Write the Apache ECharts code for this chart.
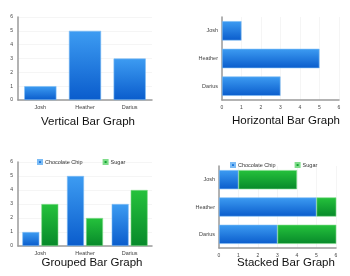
<!DOCTYPE html>
<html><head><meta charset="utf-8">
<script src="https://cdn.jsdelivr.net/npm/echarts@6/dist/echarts.min.js"></script>
<style>html,body{margin:0;padding:0;background:#fff}#c{width:350px;height:276px}</style>
</head><body><div id="c"></div>
<script>
const categories = ['Josh', 'Heather', 'Darius'];
const singleValues = [1, 5, 3];
const chocolateChip = [1, 5, 3];
const sugar = [3, 2, 4];
const seriesNames = ['Chocolate Chip', 'Sugar'];
const titles = ['Vertical Bar Graph', 'Horizontal Bar Graph', 'Grouped Bar Graph', 'Stacked Bar Graph'];

const FONT = 'Liberation Sans, Arial, sans-serif';
function grad(c1, c2) {
  return new echarts.graphic.LinearGradient(0, 0, 0, 1, [{offset: 0, color: c1}, {offset: 1, color: c2}]);
}
const blueV = grad('#3d9cf2', '#0a5ccc');
const greenV = grad('#25c23c', '#07892a');
const blueStyle = {color: blueV, borderColor: '#7cbcf5', borderWidth: 0.6};
const greenStyle = {color: greenV, borderColor: '#7fdc8a', borderWidth: 0.6};

const axisLine = {show: true, lineStyle: {color: '#9a9a9a', width: 1.5}};
const valLabel = {fontSize: 5, color: '#444', fontFamily: FONT, margin: 5};
const catLabel = {fontSize: 5.5, color: '#444', fontFamily: FONT, margin: 4};
const split = {show: true, lineStyle: {color: '#eeeeee', width: 0.6}};

function valueAxis(gi) {
  return {type: 'value', gridIndex: gi, min: 0, max: 6, interval: 1,
    axisLine: axisLine, axisTick: {show: false}, axisLabel: valLabel, splitLine: split};
}
function catAxis(gi, inverse) {
  return {type: 'category', gridIndex: gi, data: categories, inverse: !!inverse,
    axisLine: axisLine, axisTick: {show: false}, axisLabel: catLabel, splitLine: {show: false}};
}

const titleStyle = {fontSize: 11.5, fontWeight: 'normal', color: '#111', fontFamily: FONT};
const legendText = {fontSize: 5.5, color: '#333', fontFamily: FONT, padding: [0, 0, 0, -2]};
const option = {
  animation: false,
  backgroundColor: '#fff',
  title: [
    {text: titles[0], left: 83, top: 111, textAlign: 'center', textStyle: titleStyle},
    {text: titles[1], left: 281, top: 110, textAlign: 'center', textStyle: titleStyle},
    {text: titles[2], left: 87, top: 252, textAlign: 'center', textStyle: titleStyle},
    {text: titles[3], left: 281, top: 252, textAlign: 'center', textStyle: titleStyle}
  ],
  legend: [
    {data: seriesNames, left: 37, top: 159, padding: 0, itemWidth: 4, itemHeight: 4, itemGap: 20, icon: 'rect',
     textStyle: legendText},
    {data: seriesNames, left: 230, top: 162, padding: 0, itemWidth: 4, itemHeight: 4, itemGap: 19, icon: 'rect',
     textStyle: legendText}
  ],
  grid: [
    {left: 18, right: 198, top: 17, bottom: 176},
    {left: 222, right: 11, top: 17, bottom: 176},
    {left: 18, right: 198, top: 162, bottom: 30},
    {left: 219, right: 14, top: 166, bottom: 28}
  ],
  xAxis: [catAxis(0), valueAxis(1), catAxis(2), valueAxis(3)],
  yAxis: [valueAxis(0), catAxis(1, true), valueAxis(2), catAxis(3, true)],
  series: [
    {type: 'bar', xAxisIndex: 0, yAxisIndex: 0, data: singleValues, barWidth: '72%', itemStyle: blueStyle},
    {type: 'bar', xAxisIndex: 1, yAxisIndex: 1, data: singleValues, barWidth: '70%', itemStyle: blueStyle},
    {type: 'bar', name: seriesNames[0], xAxisIndex: 2, yAxisIndex: 2, data: chocolateChip,
     barWidth: '38%', barGap: '12%', itemStyle: blueStyle},
    {type: 'bar', name: seriesNames[1], xAxisIndex: 2, yAxisIndex: 2, data: sugar,
     barWidth: '38%', barGap: '12%', itemStyle: greenStyle},
    {type: 'bar', name: seriesNames[0], xAxisIndex: 3, yAxisIndex: 3, data: chocolateChip, stack: 's',
     barWidth: '70%', itemStyle: blueStyle},
    {type: 'bar', name: seriesNames[1], xAxisIndex: 3, yAxisIndex: 3, data: sugar, stack: 's',
     barWidth: '70%', itemStyle: greenStyle}
  ]
};
const chart = echarts.init(document.getElementById('c'), null, {renderer: 'canvas'});
chart.setOption(option);
</script>
</body></html>
